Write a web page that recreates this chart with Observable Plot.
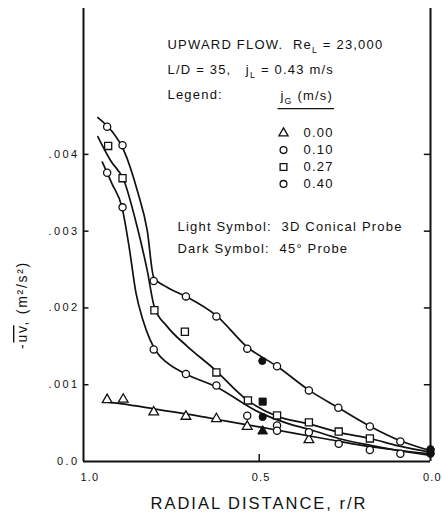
<!DOCTYPE html>
<html><head><meta charset="utf-8">
<script src="https://cdn.jsdelivr.net/npm/d3@7"></script>
<script src="https://cdn.jsdelivr.net/npm/@observablehq/plot@0.6"></script>
<style>
body{margin:0;background:#fff}
svg{font-family:"Liberation Sans",Arial,sans-serif}
g[aria-description="annotation"] text{letter-spacing:1.2px}
g[aria-description="ytick"] text{letter-spacing:2.4px}
g[aria-description="xtick"] text{letter-spacing:1.2px}
g[aria-description="ylabel"] text{letter-spacing:1.7px}
g[aria-description="xlabel"] text{letter-spacing:2px}
</style>
</head><body><div id="chart"></div>
<script>
// ---------- data ----------
// jG = 0.00 (triangles)
const r000 = [0.944,0.897,0.808,0.714,0.625,0.535,0.355];
const uv000 = [0.000804,0.00081,0.000643,0.000587,0.000556,0.000456,0.000283];
const r000Dark = [0.49];
const uv000Dark = [0.000395];
const r000Fit = [0.955,0.9,0.8,0.7,0.6,0.5,0.4,0.3,0.2,0.1,0];
const uv000Fit = [0.00078,0.00075,0.00068,0.00061,0.00053,0.00045,0.00037,0.00029,0.00021,0.00015,0.0001];
// jG = 0.10 (circles, lower)
const r010 = [0.944,0.899,0.808,0.714,0.625,0.535,0.448,0.448,0.355,0.268,0.177,0.088];
const uv010 = [0.00376,0.00331,0.00146,0.00114,0.00099,0.000595,0.00047,0.0004,0.00038,0.00023,0.00015,0.0001];
const r010Dark = [0.49];
const uv010Dark = [0.00058];
const r010Fit = [0.958,0.93,0.9,0.88,0.86,0.84,0.82,0.8,0.77,0.714,0.625,0.5,0.42,0.355,0.268,0.175,0.09,0];
const uv010Fit = [0.0039,0.00362,0.0033,0.0028,0.0022,0.00185,0.0016,0.00143,0.00129,0.00114,0.00097,0.00064,0.0005,0.00042,0.0003,0.00021,0.00014,0.00008];
// jG = 0.27 (squares)
const r027 = [0.941,0.899,0.806,0.717,0.625,0.533,0.448,0.355,0.268,0.177];
const uv027 = [0.00411,0.00369,0.00197,0.00169,0.00116,0.000795,0.0006,0.00051,0.00039,0.0003];
const r027Dark = [0.49,0];
const uv027Dark = [0.00078,0.00013];
const r027Fit = [0.971,0.934,0.895,0.856,0.827,0.806,0.769,0.71,0.633,0.535,0.448,0.355,0.268,0.177,0.09,0];
const uv027Fit = [0.00423,0.00392,0.00366,0.00305,0.00249,0.00201,0.00176,0.0015,0.00121,0.0008,0.00059,0.00049,0.00038,0.0003,0.0002,0.00012];
// jG = 0.40 (circles, upper)
const r040 = [0.944,0.899,0.808,0.714,0.625,0.535,0.448,0.355,0.269,0.177,0.088];
const uv040 = [0.00436,0.00412,0.00235,0.00215,0.00189,0.00147,0.00124,0.000926,0.0007,0.000456,0.00026];
const r040Dark = [0.491,0,0];
const uv040Dark = [0.00131,0.00016,0.0001];
const r040Fit = [0.971,0.93,0.895,0.856,0.827,0.808,0.769,0.714,0.625,0.535,0.448,0.355,0.269,0.177,0.088,0];
const uv040Fit = [0.00448,0.0043,0.00405,0.00353,0.00301,0.0024,0.00227,0.00215,0.0019,0.00149,0.00124,0.00093,0.0007,0.00046,0.00027,0.00014];

const yTicks = [0,0.001,0.002,0.003,0.004];
const yTickLabels = ["0.0",".001",".002",".003",".004"];
const xTicks = [1.0,0.5,0.0];
const xTickLabels = ["1.0","0.5","0.0"];

const legendLabels = ["0.00","0.10","0.27","0.40"];
const legendSymbols = ["triangle","circle","square","circle"];
const notes = ["UPWARD FLOW.  Re_{L} = 23,000","L/D = 35,   j_{L} = 0.43 m/s","Legend:","j_{G} (m/s)"];
const probeNotes = ["Light Symbol:  3D Conical Probe","Dark Symbol:  45° Probe"];
const xLabel = "RADIAL DISTANCE, r/R";
const yLabel = "-~{uv}, (m²/s²)";

// ---------- build ----------
const pts = (rs, us) => rs.map((r,i)=>({r, uv: us[i]}));
const ink = "#111";
const lineOpts = {x:"r", y:"uv", curve:"monotone-x", stroke:ink, strokeWidth:1.7};
const openOpts = (sym, rr) => ({x:"r", y:"uv", symbol:sym, r:rr, fill:"#fff", stroke:ink, strokeWidth:1.3});
const darkOpts = (sym, rr) => ({x:"r", y:"uv", symbol:sym, r:rr, fill:ink, stroke:ink, strokeWidth:1});
const note = (t, dx, dy) => Plot.text([t], {frameAnchor:"top-left", dx, dy, textAnchor:"start", lineAnchor:"middle", fontSize:13, fill:ink, ariaDescription:"annotation"});

const X0 = 1.013;
const marks = [
  // frame lines
  Plot.ruleX([X0, 0], {stroke:ink, strokeWidth:2}),
  Plot.ruleY([0], {stroke:ink, strokeWidth:2}),
  // inward ticks
  Plot.ruleY(yTicks.filter(d=>d>0), {y:d=>d, x1:X0, x2:X0-0.016, stroke:ink, strokeWidth:1.5}),
  Plot.ruleY(yTicks.filter(d=>d>0), {y:d=>d, x1:0, x2:0.018, stroke:ink, strokeWidth:1.5}),
  Plot.ruleX(xTicks.filter(d=>d>0 && d<1), {x:d=>d, y1:0, y2:0.00009, stroke:ink, strokeWidth:1.5}),
  // tick labels
  Plot.text(yTicks, {x:X0, y:d=>d, text:(d,i)=>yTickLabels[i], textAnchor:"end", dx:-4, fontSize:11, fill:ink, ariaDescription:"ytick"}),
  Plot.text(xTicks, {x:d=>d, y:0, text:(d,i)=>xTickLabels[i], textAnchor:"middle", dx:2, dy:16, fontSize:11, fill:ink, ariaDescription:"xtick"}),
  // fitted curves
  Plot.line(pts(r000Fit, uv000Fit), lineOpts),
  Plot.line(pts(r010Fit, uv010Fit), lineOpts),
  Plot.line(pts(r027Fit, uv027Fit), lineOpts),
  Plot.line(pts(r040Fit, uv040Fit), lineOpts),
  // data points
  Plot.dot(pts(r000, uv000), openOpts("triangle", 3.6)),
  Plot.dot(pts(r010, uv010), openOpts("circle", 3.6)),
  Plot.dot(pts(r027, uv027), openOpts("square", 4)),
  Plot.dot(pts(r040, uv040), openOpts("circle", 3.6)),
  Plot.dot(pts(r000Dark, uv000Dark), darkOpts("triangle", 3.6)),
  Plot.dot(pts(r010Dark, uv010Dark), darkOpts("circle", 3.6)),
  Plot.dot(pts(r027Dark, uv027Dark), darkOpts("square", 4)),
  Plot.dot(pts(r040Dark, uv040Dark), darkOpts("circle", 3.6)),
  // annotations
  note(notes[0], 84, 36),
  note(notes[1], 84, 61),
  note(notes[2], 84, 86),
  note(notes[3], 197, 87),
  ...legendLabels.map((lab,i)=>Plot.dot([lab], {frameAnchor:"top-left", dx:200, dy:124.7+i*16.9, symbol:legendSymbols[i], r:legendSymbols[i]==="square"?3.8:3.4, fill:"#fff", stroke:ink, strokeWidth:1.3})),
  ...legendLabels.map((lab,i)=>note(lab, 220, 124.7+i*16.9)),
  ...probeNotes.map((t,i)=>note(t, 94, 218.7+i*21.6)),
  // axis titles
  Plot.text([xLabel], {frameAnchor:"bottom", dx:2, dy:42, textAnchor:"middle", lineAnchor:"middle", fontSize:16.5, fill:ink, ariaDescription:"xlabel"}),
  Plot.text([yLabel], {frameAnchor:"left", dx:-61, dy:70, rotate:-90, textAnchor:"middle", lineAnchor:"middle", fontSize:14, fill:ink, ariaDescription:"ylabel"})
];

const chart = Plot.plot({
  width:442, height:522,
  marginLeft:83, marginRight:12, marginTop:8, marginBottom:61,
  x:{domain:[X0, 0], axis:null},
  y:{domain:[0, 0.0059], axis:null},
  style:{background:"#fff", fontFamily:"'Liberation Sans', Arial, sans-serif", overflow:"visible"},
  marks
});
document.getElementById("chart").appendChild(chart);

// rich text: _{sub} and ~{overline}
d3.select(chart).selectAll("text").each(function(){
  const t = this.textContent;
  if (!/[_~]\{/.test(t)) return;
  const fs = parseFloat(getComputedStyle(this).fontSize) || 13;
  const parts = t.split(/(_\{[^}]*\}|~\{[^}]*\})/).filter(s=>s.length);
  const el = d3.select(this);
  el.text(null);
  let shifted = 0;
  for (const p of parts) {
    const ts = el.append("tspan");
    if (p.startsWith("_{")) {
      ts.text(p.slice(2,-1)).attr("font-size", (fs*0.68)+"px").attr("dy", (fs*0.3)+"px");
      shifted = fs*0.3;
    } else {
      if (p.startsWith("~{")) ts.text(p.slice(2,-1)).style("text-decoration","overline");
      else ts.text(p);
      if (shifted) { ts.attr("dy", (-shifted)+"px"); shifted = 0; }
    }
  }
});
// underline of legend header
const hdr = d3.select(chart).selectAll("text").filter(function(){return this.textContent.startsWith("jG");});
hdr.each(function(){
  const b = this.getBBox();
  const m = this.getCTM();
  d3.select(chart).append("line")
    .attr("x1", m.e + b.x - 2).attr("x2", m.e + b.x + b.width + 1)
    .attr("y1", m.f + b.y + b.height + 3).attr("y2", m.f + b.y + b.height + 3)
    .attr("stroke", ink).attr("stroke-width", 1.3);
});
</script>
</body></html>
